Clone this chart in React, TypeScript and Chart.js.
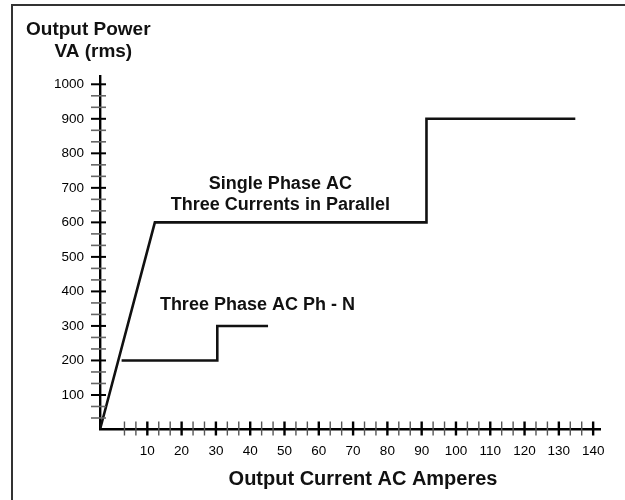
import React, { useEffect, useRef } from 'react';
import { Chart, registerables } from 'chart.js';

Chart.register(...registerables);

// ---- data ----
const singlePhaseX = [-3.8, 12.2, 91.4, 91.4, 134.8];
const singlePhaseY = [0, 600, 600, 900, 900];
const threePhaseX = [2.5, 30.4, 30.4, 45.2];
const threePhaseY = [200, 200, 300, 300];

const xTickLabels = [10, 20, 30, 40, 50, 60, 70, 80, 90, 100, 110, 120, 130, 140];
const yTickLabels = [100, 200, 300, 400, 500, 600, 700, 800, 900, 1000];
const minorPerMajor = 3;
const xRange = [-3.8, 142];
const yRange = [0, 1024];

const annotationTexts = ['Single Phase AC', 'Three Currents in Parallel', 'Three Phase AC Ph - N'];
const annotationX = [48.8, 48.8, 42.1];
const annotationY = [697, 637, 346];

const yTitleLines = ['Output Power', 'VA (rms)'];
const xTitle = 'Output Current AC Amperes';
const xTitleCenter = 72.9;

const FONT = 'Arial, "Liberation Sans", Helvetica, sans-serif';

function buildTicks(majors: number[]) {
  const step = majors[1] - majors[0];
  const out: { value: number }[] = [];
  majors.forEach((m) => {
    for (let k = minorPerMajor - 1; k >= 1; k--) out.push({ value: m - (step * k) / minorPerMajor });
    out.push({ value: m });
  });
  return out;
}

function isMajor(v: number, step: number) {
  return Math.abs(v / step - Math.round(v / step)) < 1e-6;
}

const decorPlugin = {
  id: 'decor',
  afterDraw(chart: any) {
    const { ctx, chartArea } = chart;
    const x = chart.scales.x;
    const y = chart.scales.y;
    const ax = chartArea.left;
    const ay = chartArea.bottom;
    const xStep = xTickLabels[1] - xTickLabels[0];
    const yStep = yTickLabels[1] - yTickLabels[0];
    ctx.save();
    // y tick marks crossing the axis
    y.ticks.forEach((t: any) => {
      const py = y.getPixelForValue(t.value);
      const maj = isMajor(t.value, yStep);
      ctx.strokeStyle = maj ? '#000' : '#666';
      ctx.lineWidth = maj ? 2 : 1.6;
      ctx.beginPath();
      ctx.moveTo(ax - 9, py);
      ctx.lineTo(ax + 6, py);
      ctx.stroke();
    });
    // x tick marks crossing the axis
    x.ticks.forEach((t: any) => {
      const px = x.getPixelForValue(t.value);
      const maj = isMajor(t.value, xStep);
      ctx.strokeStyle = maj ? '#000' : '#555';
      ctx.lineWidth = maj ? 2.4 : 1.4;
      ctx.beginPath();
      ctx.moveTo(px, ay - 8);
      ctx.lineTo(px, ay + 6);
      ctx.stroke();
    });
    // annotations
    ctx.fillStyle = '#111';
    ctx.textAlign = 'center';
    ctx.textBaseline = 'alphabetic';
    ctx.font = `bold 18px ${FONT}`;
    annotationTexts.forEach((txt, i) => {
      ctx.fillText(txt, x.getPixelForValue(annotationX[i]), y.getPixelForValue(annotationY[i]));
    });
    // y title (top-left)
    ctx.font = `bold 19px ${FONT}`;
    ctx.fillText(yTitleLines[0], ax - 11.7, chartArea.top - 41);
    ctx.fillText(yTitleLines[1], ax - 6.7, chartArea.top - 19);
    // x title
    ctx.font = `bold 20px ${FONT}`;
    ctx.fillText(xTitle, x.getPixelForValue(xTitleCenter), ay + 55.5);
    ctx.restore();
  },
};

export default function App() {
  const ref = useRef<HTMLCanvasElement | null>(null);

  useEffect(() => {
    if (!ref.current) return;
    const xTicks = buildTicks(xTickLabels);
    const yTicks = buildTicks(yTickLabels);
    const xStep = xTickLabels[1] - xTickLabels[0];
    const yStep = yTickLabels[1] - yTickLabels[0];
    const chart = new Chart(ref.current, {
      type: 'line',
      data: {
        datasets: [
          {
            label: 'Single Phase AC',
            data: singlePhaseX.map((v, i) => ({ x: v, y: singlePhaseY[i] })),
            borderColor: '#111',
            borderWidth: 2.6,
            pointRadius: 0,
            tension: 0,
            fill: false,
          },
          {
            label: 'Three Phase AC Ph - N',
            data: threePhaseX.map((v, i) => ({ x: v, y: threePhaseY[i] })),
            borderColor: '#111',
            borderWidth: 2.6,
            pointRadius: 0,
            tension: 0,
            fill: false,
          },
        ],
      },
      options: {
        responsive: false,
        animation: false,
        layout: { padding: { top: 76, right: 25, left: 0, bottom: 0 } },
        plugins: {
          legend: { display: false },
          tooltip: { enabled: false },
        },
        scales: {
          x: {
            type: 'linear',
            min: xRange[0],
            max: xRange[1],
            afterBuildTicks: (scale: any) => {
              scale.ticks = xTicks.map((t) => ({ value: t.value }));
            },
            afterFit: (scale: any) => {
              scale.height = 70.5;
            },
            grid: { display: true, drawOnChartArea: false, drawTicks: false, color: 'transparent' },
            border: { display: true, color: '#000', width: 2.4 },
            ticks: {
              autoSkip: false,
              maxRotation: 0,
              padding: 14,
              color: '#000',
              font: { family: FONT, size: 13.5 },
              callback: (value: any) => (isMajor(Number(value), xStep) ? String(Math.round(Number(value))) : ''),
            },
          },
          y: {
            type: 'linear',
            min: yRange[0],
            max: yRange[1],
            afterBuildTicks: (scale: any) => {
              scale.ticks = yTicks.map((t) => ({ value: t.value }));
            },
            afterFit: (scale: any) => {
              scale.width = 100;
            },
            grid: { display: true, drawOnChartArea: false, drawTicks: false, color: 'transparent' },
            border: { display: true, color: '#000', width: 2.4 },
            ticks: {
              autoSkip: false,
              padding: 16,
              color: '#000',
              font: { family: FONT, size: 13.5 },
              callback: (value: any) => (isMajor(Number(value), yStep) ? String(Math.round(Number(value))) : ''),
            },
          },
        },
      },
      plugins: [decorPlugin],
    } as any);
    return () => chart.destroy();
  }, []);

  return (
    <div style={{ position: 'absolute', left: 0, top: 0, width: 625, height: 500, background: '#fff' }}>
      <canvas ref={ref} width={625} height={500} style={{ position: 'absolute', left: 0, top: 0, width: 625, height: 500 }} />
      <div
        style={{
          position: 'absolute',
          left: 11,
          top: 4,
          right: 0,
          bottom: 0,
          borderLeft: '2px solid #333',
          borderTop: '2px solid #333',
          pointerEvents: 'none',
        }}
      />
    </div>
  );
}
